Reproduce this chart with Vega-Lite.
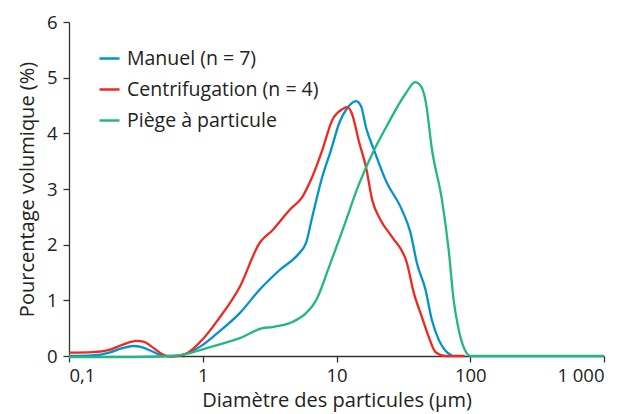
{
  "$schema": "https://vega.github.io/schema/vega-lite/v6.json",
  "width": 535,
  "height": 334,
  "autosize": "none",
  "padding": {"left": 69, "top": 22, "right": 34, "bottom": 58},
  "background": "white",
  "config": {
    "font": "Open Sans",
    "view": {"stroke": null},
    "axis": {"grid": false, "domainColor": "#333333", "domainWidth": 1.3, "tickColor": "#333333", "tickWidth": 1.3, "tickSize": 6, "labelFont": "Open Sans", "labelFontSize": 18.5, "labelColor": "#222222", "titleFont": "Open Sans", "titleFontSize": 20, "titleFontWeight": "normal", "titleColor": "#222222"}
  },
  "data": {"values": [
    {"d": 0.1, "v": 0, "s": "Manuel (n = 7)"},
    {"d": 0.15, "v": 0.01, "s": "Manuel (n = 7)"},
    {"d": 0.2, "v": 0.06, "s": "Manuel (n = 7)"},
    {"d": 0.25, "v": 0.14, "s": "Manuel (n = 7)"},
    {"d": 0.3, "v": 0.18, "s": "Manuel (n = 7)"},
    {"d": 0.35, "v": 0.16, "s": "Manuel (n = 7)"},
    {"d": 0.42, "v": 0.08, "s": "Manuel (n = 7)"},
    {"d": 0.5, "v": 0.01, "s": "Manuel (n = 7)"},
    {"d": 0.6, "v": 0, "s": "Manuel (n = 7)"},
    {"d": 0.75, "v": 0.04, "s": "Manuel (n = 7)"},
    {"d": 1, "v": 0.2, "s": "Manuel (n = 7)"},
    {"d": 1.3, "v": 0.42, "s": "Manuel (n = 7)"},
    {"d": 1.89, "v": 0.77, "s": "Manuel (n = 7)"},
    {"d": 2.66, "v": 1.19, "s": "Manuel (n = 7)"},
    {"d": 3.74, "v": 1.54, "s": "Manuel (n = 7)"},
    {"d": 5.27, "v": 1.85, "s": "Manuel (n = 7)"},
    {"d": 5.92, "v": 2.03, "s": "Manuel (n = 7)"},
    {"d": 6.59, "v": 2.5, "s": "Manuel (n = 7)"},
    {"d": 7.83, "v": 3.22, "s": "Manuel (n = 7)"},
    {"d": 9.1, "v": 3.7, "s": "Manuel (n = 7)"},
    {"d": 10.5, "v": 4.19, "s": "Manuel (n = 7)"},
    {"d": 12, "v": 4.45, "s": "Manuel (n = 7)"},
    {"d": 14, "v": 4.58, "s": "Manuel (n = 7)"},
    {"d": 15.3, "v": 4.48, "s": "Manuel (n = 7)"},
    {"d": 16.6, "v": 4.11, "s": "Manuel (n = 7)"},
    {"d": 19.1, "v": 3.7, "s": "Manuel (n = 7)"},
    {"d": 23.3, "v": 3.16, "s": "Manuel (n = 7)"},
    {"d": 30.9, "v": 2.62, "s": "Manuel (n = 7)"},
    {"d": 35.8, "v": 2.21, "s": "Manuel (n = 7)"},
    {"d": 39.9, "v": 1.67, "s": "Manuel (n = 7)"},
    {"d": 46.3, "v": 1.19, "s": "Manuel (n = 7)"},
    {"d": 51.6, "v": 0.65, "s": "Manuel (n = 7)"},
    {"d": 58.2, "v": 0.29, "s": "Manuel (n = 7)"},
    {"d": 65, "v": 0.1, "s": "Manuel (n = 7)"},
    {"d": 72.7, "v": 0.01, "s": "Manuel (n = 7)"},
    {"d": 0.1, "v": 0.06, "s": "Centrifugation (n = 4)"},
    {"d": 0.15, "v": 0.07, "s": "Centrifugation (n = 4)"},
    {"d": 0.2, "v": 0.11, "s": "Centrifugation (n = 4)"},
    {"d": 0.25, "v": 0.2, "s": "Centrifugation (n = 4)"},
    {"d": 0.32, "v": 0.27, "s": "Centrifugation (n = 4)"},
    {"d": 0.36, "v": 0.26, "s": "Centrifugation (n = 4)"},
    {"d": 0.42, "v": 0.16, "s": "Centrifugation (n = 4)"},
    {"d": 0.5, "v": 0.03, "s": "Centrifugation (n = 4)"},
    {"d": 0.56, "v": -0.01, "s": "Centrifugation (n = 4)"},
    {"d": 0.65, "v": 0, "s": "Centrifugation (n = 4)"},
    {"d": 0.75, "v": 0.04, "s": "Centrifugation (n = 4)"},
    {"d": 1, "v": 0.3, "s": "Centrifugation (n = 4)"},
    {"d": 1.3, "v": 0.65, "s": "Centrifugation (n = 4)"},
    {"d": 1.89, "v": 1.24, "s": "Centrifugation (n = 4)"},
    {"d": 2.66, "v": 2.03, "s": "Centrifugation (n = 4)"},
    {"d": 3.32, "v": 2.26, "s": "Centrifugation (n = 4)"},
    {"d": 4.44, "v": 2.62, "s": "Centrifugation (n = 4)"},
    {"d": 5.56, "v": 2.86, "s": "Centrifugation (n = 4)"},
    {"d": 6.59, "v": 3.22, "s": "Centrifugation (n = 4)"},
    {"d": 7.83, "v": 3.7, "s": "Centrifugation (n = 4)"},
    {"d": 9.3, "v": 4.24, "s": "Centrifugation (n = 4)"},
    {"d": 11, "v": 4.43, "s": "Centrifugation (n = 4)"},
    {"d": 12, "v": 4.47, "s": "Centrifugation (n = 4)"},
    {"d": 13, "v": 4.36, "s": "Centrifugation (n = 4)"},
    {"d": 14.8, "v": 3.83, "s": "Centrifugation (n = 4)"},
    {"d": 16.6, "v": 3.4, "s": "Centrifugation (n = 4)"},
    {"d": 18.5, "v": 2.8, "s": "Centrifugation (n = 4)"},
    {"d": 21.4, "v": 2.44, "s": "Centrifugation (n = 4)"},
    {"d": 26, "v": 2.14, "s": "Centrifugation (n = 4)"},
    {"d": 33.6, "v": 1.67, "s": "Centrifugation (n = 4)"},
    {"d": 37.9, "v": 1.13, "s": "Centrifugation (n = 4)"},
    {"d": 43.5, "v": 0.7, "s": "Centrifugation (n = 4)"},
    {"d": 49, "v": 0.34, "s": "Centrifugation (n = 4)"},
    {"d": 55, "v": 0.07, "s": "Centrifugation (n = 4)"},
    {"d": 65, "v": 0, "s": "Centrifugation (n = 4)"},
    {"d": 91, "v": 0, "s": "Centrifugation (n = 4)"},
    {"d": 0.1, "v": -0.02, "s": "Piège à particule"},
    {"d": 0.3, "v": -0.02, "s": "Piège à particule"},
    {"d": 0.6, "v": 0, "s": "Piège à particule"},
    {"d": 0.8, "v": 0.05, "s": "Piège à particule"},
    {"d": 1, "v": 0.12, "s": "Piège à particule"},
    {"d": 1.3, "v": 0.2, "s": "Piège à particule"},
    {"d": 1.89, "v": 0.32, "s": "Piège à particule"},
    {"d": 2.8, "v": 0.5, "s": "Piège à particule"},
    {"d": 3.32, "v": 0.52, "s": "Piège à particule"},
    {"d": 4.67, "v": 0.61, "s": "Piège à particule"},
    {"d": 5.92, "v": 0.77, "s": "Piège à particule"},
    {"d": 7.04, "v": 1.0, "s": "Piège à particule"},
    {"d": 8.8, "v": 1.6, "s": "Piège à particule"},
    {"d": 11.1, "v": 2.26, "s": "Piège à particule"},
    {"d": 14.8, "v": 3.1, "s": "Piège à particule"},
    {"d": 19.1, "v": 3.7, "s": "Piège à particule"},
    {"d": 23.5, "v": 4.11, "s": "Piège à particule"},
    {"d": 33, "v": 4.72, "s": "Piège à particule"},
    {"d": 38.6, "v": 4.92, "s": "Piège à particule"},
    {"d": 43, "v": 4.84, "s": "Piège à particule"},
    {"d": 46.6, "v": 4.55, "s": "Piège à particule"},
    {"d": 51.8, "v": 3.7, "s": "Piège à particule"},
    {"d": 61.5, "v": 2.8, "s": "Piège à particule"},
    {"d": 69, "v": 1.9, "s": "Piège à particule"},
    {"d": 75.2, "v": 1.0, "s": "Piège à particule"},
    {"d": 82, "v": 0.47, "s": "Piège à particule"},
    {"d": 94, "v": 0.05, "s": "Piège à particule"},
    {"d": 100, "v": 0, "s": "Piège à particule"},
    {"d": 1000, "v": 0, "s": "Piège à particule"}
  ]},
  "mark": {"type": "line", "interpolate": "monotone", "strokeWidth": 2.3},
  "encoding": {
    "x": {"field": "d", "type": "quantitative", "scale": {"type": "log", "domain": [0.1, 1000]},
      "axis": {"values": [0.1, 1, 10, 100, 1000], "labelExpr": "datum.value == 0.1 ? '0,1' : datum.value == 1000 ? '1 000' : datum.label", "labelPadding": 4, "title": "Diamètre des particules (µm)", "titlePadding": 6}},
    "y": {"field": "v", "type": "quantitative", "scale": {"domain": [0, 6], "nice": false, "zero": false},
      "axis": {"values": [0, 1, 2, 3, 4, 5, 6], "labelPadding": 6, "title": "Pourcentage volumique (%)", "titlePadding": 9}},
    "color": {"field": "s", "type": "nominal", "sort": null,
      "scale": {"domain": ["Manuel (n = 7)", "Centrifugation (n = 4)", "Piège à particule"], "range": ["#0093cf", "#f0281e", "#22b883"]},
      "legend": {"title": null, "orient": "none", "legendX": 29, "legendY": 25, "symbolType": "stroke", "symbolSize": 400, "symbolStrokeWidth": 2.5, "labelFont": "Open Sans", "labelFontSize": 19.5, "labelColor": "#222222", "labelOffset": 6, "labelLimit": 0, "rowPadding": 10}}
  }
}
